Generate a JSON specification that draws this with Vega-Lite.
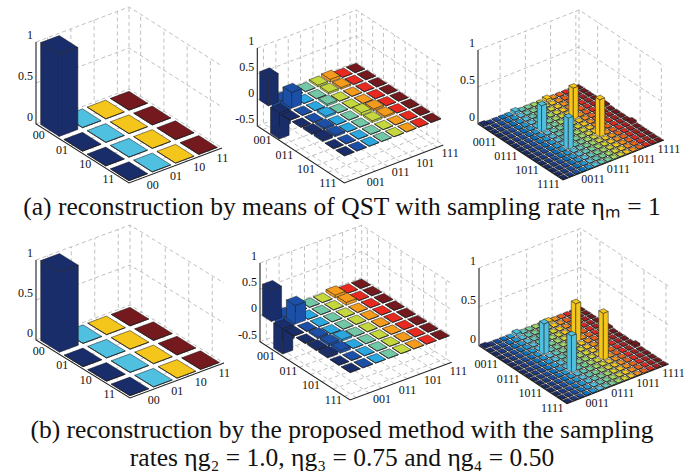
{"$schema":"https://vega.github.io/schema/vega-lite/v6.json","padding":0,"background":"white","config":{"view":{"stroke":null},"concat":{"spacing":0}},"params":[{"name":"OX","value":[36,257.3,478,36,260,479]},{"name":"OY","value":[124,126,124,340,341.7,345.7]},{"name":"RX","value":[93,87,85,94,90,88]},{"name":"RY","value":[59,57,56,58,58.3,58]},{"name":"CX","value":[93,99,101,94,101.7,101.7]},{"name":"CY","value":[-35,-38,-40,-35,-37.7,-39.7]},{"name":"ZU","value":[82,52,74,80,52.5,77.7]},{"name":"ZL","value":[0,-0.5,0,0,-0.5,0]},{"name":"NN","value":[4,8,16,4,8,16]},{"name":"DRX","value":[-9,-11,-12,-9,-11,-12]},{"name":"DRY","value":[3.5,3.7,6,3.5,3.7,6]},{"name":"DCX","value":[12,13,8,12,13,8]},{"name":"DCY","value":[6,6,8,6,6,8]}],
"data":{"values":[
{"p":0,"l":"a"},{"p":1,"l":"a"},{"p":2,"l":"a"},{"p":3,"l":"a"},{"p":4,"l":"a"},{"p":5,"l":"a"},
{"p":0,"l":"k"},{"p":1,"l":"k"},{"p":2,"l":"k"},{"p":3,"l":"k"},{"p":4,"l":"k"},{"p":5,"l":"k"},
{"p":0,"l":"z","t":0},{"p":0,"l":"z","t":0.5},{"p":0,"l":"z","t":1},{"p":3,"l":"z","t":0},{"p":3,"l":"z","t":0.5},{"p":3,"l":"z","t":1},
{"p":2,"l":"z","t":0},{"p":2,"l":"z","t":0.5},{"p":2,"l":"z","t":1},{"p":5,"l":"z","t":0},{"p":5,"l":"z","t":0.5},{"p":5,"l":"z","t":1},
{"p":1,"l":"z","t":-0.5},{"p":1,"l":"z","t":0},{"p":1,"l":"z","t":0.5},{"p":1,"l":"z","t":1},{"p":4,"l":"z","t":-0.5},{"p":4,"l":"z","t":0},{"p":4,"l":"z","t":0.5},{"p":4,"l":"z","t":1},
{"p":0,"l":"c","t":0},{"p":0,"l":"c","t":1},{"p":0,"l":"c","t":2},{"p":0,"l":"c","t":3},{"p":0,"l":"r","t":0},{"p":0,"l":"r","t":1},{"p":0,"l":"r","t":2},{"p":0,"l":"r","t":3},
{"p":3,"l":"c","t":0},{"p":3,"l":"c","t":1},{"p":3,"l":"c","t":2},{"p":3,"l":"c","t":3},{"p":3,"l":"r","t":0},{"p":3,"l":"r","t":1},{"p":3,"l":"r","t":2},{"p":3,"l":"r","t":3},
{"p":2,"l":"c","t":3},{"p":2,"l":"c","t":7},{"p":2,"l":"c","t":11},{"p":2,"l":"c","t":15},{"p":2,"l":"r","t":3},{"p":2,"l":"r","t":7},{"p":2,"l":"r","t":11},{"p":2,"l":"r","t":15},
{"p":5,"l":"c","t":3},{"p":5,"l":"c","t":7},{"p":5,"l":"c","t":11},{"p":5,"l":"c","t":15},{"p":5,"l":"r","t":3},{"p":5,"l":"r","t":7},{"p":5,"l":"r","t":11},{"p":5,"l":"r","t":15},
{"p":1,"l":"c","t":0},{"p":1,"l":"c","t":1},{"p":1,"l":"c","t":2},{"p":1,"l":"c","t":3},{"p":1,"l":"c","t":4},{"p":1,"l":"c","t":5},{"p":1,"l":"c","t":6},{"p":1,"l":"c","t":7},{"p":1,"l":"r","t":0},{"p":1,"l":"r","t":1},{"p":1,"l":"r","t":2},{"p":1,"l":"r","t":3},{"p":1,"l":"r","t":4},{"p":1,"l":"r","t":5},{"p":1,"l":"r","t":6},{"p":1,"l":"r","t":7},
{"p":4,"l":"c","t":0},{"p":4,"l":"c","t":1},{"p":4,"l":"c","t":2},{"p":4,"l":"c","t":3},{"p":4,"l":"c","t":4},{"p":4,"l":"c","t":5},{"p":4,"l":"c","t":6},{"p":4,"l":"c","t":7},{"p":4,"l":"r","t":0},{"p":4,"l":"r","t":1},{"p":4,"l":"r","t":2},{"p":4,"l":"r","t":3},{"p":4,"l":"r","t":4},{"p":4,"l":"r","t":5},{"p":4,"l":"r","t":6},{"p":4,"l":"r","t":7},
{"p":0,"l":"tz","t":0,"s":"0"},{"p":0,"l":"tz","t":0.5,"s":"0.5"},{"p":0,"l":"tz","t":1,"s":"1"},{"p":3,"l":"tz","t":0,"s":"0"},{"p":3,"l":"tz","t":0.5,"s":"0.5"},{"p":3,"l":"tz","t":1,"s":"1"},
{"p":2,"l":"tz","t":0,"s":"0"},{"p":2,"l":"tz","t":0.5,"s":"0.5"},{"p":2,"l":"tz","t":1,"s":"1"},{"p":5,"l":"tz","t":0,"s":"0"},{"p":5,"l":"tz","t":0.5,"s":"0.5"},{"p":5,"l":"tz","t":1,"s":"1"},
{"p":1,"l":"tz","t":-0.5,"s":"-0.5"},{"p":1,"l":"tz","t":0,"s":"0"},{"p":1,"l":"tz","t":0.5,"s":"0.5"},{"p":1,"l":"tz","t":1,"s":"1"},{"p":4,"l":"tz","t":-0.5,"s":"-0.5"},{"p":4,"l":"tz","t":0,"s":"0"},{"p":4,"l":"tz","t":0.5,"s":"0.5"},{"p":4,"l":"tz","t":1,"s":"1"},
{"p":0,"l":"tr","t":0,"s":"00"},{"p":0,"l":"tr","t":1,"s":"01"},{"p":0,"l":"tr","t":2,"s":"10"},{"p":0,"l":"tr","t":3,"s":"11"},{"p":0,"l":"tc","t":0,"s":"00"},{"p":0,"l":"tc","t":1,"s":"01"},{"p":0,"l":"tc","t":2,"s":"10"},{"p":0,"l":"tc","t":3,"s":"11"},
{"p":3,"l":"tr","t":0,"s":"00"},{"p":3,"l":"tr","t":1,"s":"01"},{"p":3,"l":"tr","t":2,"s":"10"},{"p":3,"l":"tr","t":3,"s":"11"},{"p":3,"l":"tc","t":0,"s":"00"},{"p":3,"l":"tc","t":1,"s":"01"},{"p":3,"l":"tc","t":2,"s":"10"},{"p":3,"l":"tc","t":3,"s":"11"},
{"p":1,"l":"tr","t":1,"s":"001"},{"p":1,"l":"tr","t":3,"s":"011"},{"p":1,"l":"tr","t":5,"s":"101"},{"p":1,"l":"tr","t":7,"s":"111"},{"p":1,"l":"tc","t":1,"s":"001"},{"p":1,"l":"tc","t":3,"s":"011"},{"p":1,"l":"tc","t":5,"s":"101"},{"p":1,"l":"tc","t":7,"s":"111"},
{"p":4,"l":"tr","t":1,"s":"001"},{"p":4,"l":"tr","t":3,"s":"011"},{"p":4,"l":"tr","t":5,"s":"101"},{"p":4,"l":"tr","t":7,"s":"111"},{"p":4,"l":"tc","t":1,"s":"001"},{"p":4,"l":"tc","t":3,"s":"011"},{"p":4,"l":"tc","t":5,"s":"101"},{"p":4,"l":"tc","t":7,"s":"111"},
{"p":2,"l":"tr","t":3,"s":"0011"},{"p":2,"l":"tr","t":7,"s":"0111"},{"p":2,"l":"tr","t":11,"s":"1011"},{"p":2,"l":"tr","t":15,"s":"1111"},{"p":2,"l":"tc","t":3,"s":"0011"},{"p":2,"l":"tc","t":7,"s":"0111"},{"p":2,"l":"tc","t":11,"s":"1011"},{"p":2,"l":"tc","t":15,"s":"1111"},
{"p":5,"l":"tr","t":3,"s":"0011"},{"p":5,"l":"tr","t":7,"s":"0111"},{"p":5,"l":"tr","t":11,"s":"1011"},{"p":5,"l":"tr","t":15,"s":"1111"},{"p":5,"l":"tc","t":3,"s":"0011"},{"p":5,"l":"tc","t":7,"s":"0111"},{"p":5,"l":"tc","t":11,"s":"1011"},{"p":5,"l":"tc","t":15,"s":"1111"},
{"p":0,"r":0,"c":3,"z":0},{"p":0,"r":0,"c":2,"z":0},{"p":0,"r":0,"c":1,"z":0},{"p":0,"r":0,"c":0,"z":1},{"p":0,"r":1,"c":3,"z":0},{"p":0,"r":1,"c":2,"z":0},{"p":0,"r":1,"c":1,"z":0},{"p":0,"r":1,"c":0,"z":0},{"p":0,"r":2,"c":3,"z":0},{"p":0,"r":2,"c":2,"z":0},{"p":0,"r":2,"c":1,"z":0},{"p":0,"r":2,"c":0,"z":0},{"p":0,"r":3,"c":3,"z":0},{"p":0,"r":3,"c":2,"z":0},{"p":0,"r":3,"c":1,"z":0},{"p":0,"r":3,"c":0,"z":0},
{"p":3,"r":0,"c":3,"z":0},{"p":3,"r":0,"c":2,"z":0},{"p":3,"r":0,"c":1,"z":0},{"p":3,"r":0,"c":0,"z":1},{"p":3,"r":1,"c":3,"z":0},{"p":3,"r":1,"c":2,"z":0},{"p":3,"r":1,"c":1,"z":0},{"p":3,"r":1,"c":0,"z":0},{"p":3,"r":2,"c":3,"z":0},{"p":3,"r":2,"c":2,"z":0},{"p":3,"r":2,"c":1,"z":0},{"p":3,"r":2,"c":0,"z":0},{"p":3,"r":3,"c":3,"z":0},{"p":3,"r":3,"c":2,"z":0},{"p":3,"r":3,"c":1,"z":0},{"p":3,"r":3,"c":0,"z":0},
{"p":1,"r":0,"c":7,"z":0},{"p":1,"r":0,"c":6,"z":0},{"p":1,"r":0,"c":5,"z":0.05},{"p":1,"r":0,"c":4,"z":0.03},{"p":1,"r":0,"c":3,"z":0},{"p":1,"r":0,"c":2,"z":0},{"p":1,"r":0,"c":1,"z":-0.5},{"p":1,"r":0,"c":0,"z":0.55},
{"p":1,"r":1,"c":7,"z":0},{"p":1,"r":1,"c":6,"z":0},{"p":1,"r":1,"c":5,"z":0.03},{"p":1,"r":1,"c":4,"z":0.03},{"p":1,"r":1,"c":3,"z":0},{"p":1,"r":1,"c":2,"z":0},{"p":1,"r":1,"c":1,"z":0.3},{"p":1,"r":1,"c":0,"z":-0.5},
{"p":1,"r":2,"c":7,"z":0},{"p":1,"r":2,"c":6,"z":0},{"p":1,"r":2,"c":5,"z":0},{"p":1,"r":2,"c":4,"z":0},{"p":1,"r":2,"c":3,"z":0.03},{"p":1,"r":2,"c":2,"z":0},{"p":1,"r":2,"c":1,"z":0},{"p":1,"r":2,"c":0,"z":0},
{"p":1,"r":3,"c":7,"z":0},{"p":1,"r":3,"c":6,"z":0},{"p":1,"r":3,"c":5,"z":0},{"p":1,"r":3,"c":4,"z":0},{"p":1,"r":3,"c":3,"z":0},{"p":1,"r":3,"c":2,"z":0.03},{"p":1,"r":3,"c":1,"z":0},{"p":1,"r":3,"c":0,"z":0},
{"p":1,"r":4,"c":7,"z":0},{"p":1,"r":4,"c":6,"z":0},{"p":1,"r":4,"c":5,"z":0.03},{"p":1,"r":4,"c":4,"z":0.05},{"p":1,"r":4,"c":3,"z":0},{"p":1,"r":4,"c":2,"z":0},{"p":1,"r":4,"c":1,"z":0.03},{"p":1,"r":4,"c":0,"z":0.03},
{"p":1,"r":5,"c":7,"z":0},{"p":1,"r":5,"c":6,"z":0},{"p":1,"r":5,"c":5,"z":0.03},{"p":1,"r":5,"c":4,"z":0.03},{"p":1,"r":5,"c":3,"z":0},{"p":1,"r":5,"c":2,"z":0},{"p":1,"r":5,"c":1,"z":0.03},{"p":1,"r":5,"c":0,"z":0.05},
{"p":1,"r":6,"c":7,"z":0},{"p":1,"r":6,"c":6,"z":0},{"p":1,"r":6,"c":5,"z":0},{"p":1,"r":6,"c":4,"z":0},{"p":1,"r":6,"c":3,"z":0},{"p":1,"r":6,"c":2,"z":0},{"p":1,"r":6,"c":1,"z":0},{"p":1,"r":6,"c":0,"z":0},
{"p":1,"r":7,"c":7,"z":0},{"p":1,"r":7,"c":6,"z":0},{"p":1,"r":7,"c":5,"z":0},{"p":1,"r":7,"c":4,"z":0},{"p":1,"r":7,"c":3,"z":0},{"p":1,"r":7,"c":2,"z":0},{"p":1,"r":7,"c":1,"z":0},{"p":1,"r":7,"c":0,"z":0},
{"p":4,"r":0,"c":7,"z":0},{"p":4,"r":0,"c":6,"z":0},{"p":4,"r":0,"c":5,"z":0.05},{"p":4,"r":0,"c":4,"z":0},{"p":4,"r":0,"c":3,"z":0},{"p":4,"r":0,"c":2,"z":0},{"p":4,"r":0,"c":1,"z":-0.48},{"p":4,"r":0,"c":0,"z":0.6},
{"p":4,"r":1,"c":7,"z":0},{"p":4,"r":1,"c":6,"z":0},{"p":4,"r":1,"c":5,"z":0.05},{"p":4,"r":1,"c":4,"z":0},{"p":4,"r":1,"c":3,"z":0},{"p":4,"r":1,"c":2,"z":0},{"p":4,"r":1,"c":1,"z":0.35},{"p":4,"r":1,"c":0,"z":-0.48},
{"p":4,"r":2,"c":7,"z":0},{"p":4,"r":2,"c":6,"z":0},{"p":4,"r":2,"c":5,"z":0},{"p":4,"r":2,"c":4,"z":0},{"p":4,"r":2,"c":3,"z":0},{"p":4,"r":2,"c":2,"z":0},{"p":4,"r":2,"c":1,"z":0},{"p":4,"r":2,"c":0,"z":0},
{"p":4,"r":3,"c":7,"z":0},{"p":4,"r":3,"c":6,"z":0},{"p":4,"r":3,"c":5,"z":0},{"p":4,"r":3,"c":4,"z":0},{"p":4,"r":3,"c":3,"z":0},{"p":4,"r":3,"c":2,"z":0},{"p":4,"r":3,"c":1,"z":0.03},{"p":4,"r":3,"c":0,"z":0},
{"p":4,"r":4,"c":7,"z":0},{"p":4,"r":4,"c":6,"z":0},{"p":4,"r":4,"c":5,"z":0},{"p":4,"r":4,"c":4,"z":0},{"p":4,"r":4,"c":3,"z":0},{"p":4,"r":4,"c":2,"z":0.03},{"p":4,"r":4,"c":1,"z":0.04},{"p":4,"r":4,"c":0,"z":0.03},
{"p":4,"r":5,"c":7,"z":0},{"p":4,"r":5,"c":6,"z":0},{"p":4,"r":5,"c":5,"z":0},{"p":4,"r":5,"c":4,"z":0},{"p":4,"r":5,"c":3,"z":0},{"p":4,"r":5,"c":2,"z":0},{"p":4,"r":5,"c":1,"z":0.05},{"p":4,"r":5,"c":0,"z":0.05},
{"p":4,"r":6,"c":7,"z":0},{"p":4,"r":6,"c":6,"z":0},{"p":4,"r":6,"c":5,"z":0},{"p":4,"r":6,"c":4,"z":0},{"p":4,"r":6,"c":3,"z":0},{"p":4,"r":6,"c":2,"z":0},{"p":4,"r":6,"c":1,"z":0},{"p":4,"r":6,"c":0,"z":0},
{"p":4,"r":7,"c":7,"z":0},{"p":4,"r":7,"c":6,"z":0},{"p":4,"r":7,"c":5,"z":0},{"p":4,"r":7,"c":4,"z":0},{"p":4,"r":7,"c":3,"z":0},{"p":4,"r":7,"c":2,"z":0},{"p":4,"r":7,"c":1,"z":0},{"p":4,"r":7,"c":0,"z":0},
{"p":2,"r":0,"c":15,"z":0},{"p":2,"r":0,"c":14,"z":0},{"p":2,"r":0,"c":13,"z":0},{"p":2,"r":0,"c":12,"z":0},{"p":2,"r":0,"c":11,"z":0},{"p":2,"r":0,"c":10,"z":0.03},{"p":2,"r":0,"c":9,"z":0},{"p":2,"r":0,"c":8,"z":0},{"p":2,"r":0,"c":7,"z":0},{"p":2,"r":0,"c":6,"z":0},{"p":2,"r":0,"c":5,"z":0.03},{"p":2,"r":0,"c":4,"z":0},{"p":2,"r":0,"c":3,"z":0},{"p":2,"r":0,"c":2,"z":0},{"p":2,"r":0,"c":1,"z":0},{"p":2,"r":0,"c":0,"z":0.02},
{"p":2,"r":1,"c":15,"z":0},{"p":2,"r":1,"c":14,"z":0},{"p":2,"r":1,"c":13,"z":0},{"p":2,"r":1,"c":12,"z":0},{"p":2,"r":1,"c":11,"z":0},{"p":2,"r":1,"c":10,"z":0},{"p":2,"r":1,"c":9,"z":0},{"p":2,"r":1,"c":8,"z":0},{"p":2,"r":1,"c":7,"z":0},{"p":2,"r":1,"c":6,"z":0},{"p":2,"r":1,"c":5,"z":0},{"p":2,"r":1,"c":4,"z":0},{"p":2,"r":1,"c":3,"z":0},{"p":2,"r":1,"c":2,"z":0},{"p":2,"r":1,"c":1,"z":0},{"p":2,"r":1,"c":0,"z":0},
{"p":2,"r":2,"c":15,"z":0},{"p":2,"r":2,"c":14,"z":0},{"p":2,"r":2,"c":13,"z":0},{"p":2,"r":2,"c":12,"z":0},{"p":2,"r":2,"c":11,"z":0},{"p":2,"r":2,"c":10,"z":0},{"p":2,"r":2,"c":9,"z":0},{"p":2,"r":2,"c":8,"z":0},{"p":2,"r":2,"c":7,"z":0},{"p":2,"r":2,"c":6,"z":0},{"p":2,"r":2,"c":5,"z":0},{"p":2,"r":2,"c":4,"z":0},{"p":2,"r":2,"c":3,"z":0},{"p":2,"r":2,"c":2,"z":0},{"p":2,"r":2,"c":1,"z":0},{"p":2,"r":2,"c":0,"z":0},
{"p":2,"r":3,"c":15,"z":0},{"p":2,"r":3,"c":14,"z":0},{"p":2,"r":3,"c":13,"z":0},{"p":2,"r":3,"c":12,"z":0},{"p":2,"r":3,"c":11,"z":0},{"p":2,"r":3,"c":10,"z":0},{"p":2,"r":3,"c":9,"z":0},{"p":2,"r":3,"c":8,"z":0},{"p":2,"r":3,"c":7,"z":0},{"p":2,"r":3,"c":6,"z":0},{"p":2,"r":3,"c":5,"z":0},{"p":2,"r":3,"c":4,"z":0},{"p":2,"r":3,"c":3,"z":0},{"p":2,"r":3,"c":2,"z":0},{"p":2,"r":3,"c":1,"z":0},{"p":2,"r":3,"c":0,"z":0},
{"p":2,"r":4,"c":15,"z":0},{"p":2,"r":4,"c":14,"z":0},{"p":2,"r":4,"c":13,"z":0},{"p":2,"r":4,"c":12,"z":0},{"p":2,"r":4,"c":11,"z":0},{"p":2,"r":4,"c":10,"z":0},{"p":2,"r":4,"c":9,"z":0},{"p":2,"r":4,"c":8,"z":0},{"p":2,"r":4,"c":7,"z":0},{"p":2,"r":4,"c":6,"z":0},{"p":2,"r":4,"c":5,"z":0},{"p":2,"r":4,"c":4,"z":0},{"p":2,"r":4,"c":3,"z":0},{"p":2,"r":4,"c":2,"z":0},{"p":2,"r":4,"c":1,"z":0},{"p":2,"r":4,"c":0,"z":0},
{"p":2,"r":5,"c":15,"z":0.02},{"p":2,"r":5,"c":14,"z":0},{"p":2,"r":5,"c":13,"z":0},{"p":2,"r":5,"c":12,"z":0},{"p":2,"r":5,"c":11,"z":0},{"p":2,"r":5,"c":10,"z":0.42},{"p":2,"r":5,"c":9,"z":0},{"p":2,"r":5,"c":8,"z":0},{"p":2,"r":5,"c":7,"z":0},{"p":2,"r":5,"c":6,"z":0},{"p":2,"r":5,"c":5,"z":0.35},{"p":2,"r":5,"c":4,"z":0},{"p":2,"r":5,"c":3,"z":0},{"p":2,"r":5,"c":2,"z":0},{"p":2,"r":5,"c":1,"z":0},{"p":2,"r":5,"c":0,"z":0},
{"p":2,"r":6,"c":15,"z":0},{"p":2,"r":6,"c":14,"z":0},{"p":2,"r":6,"c":13,"z":0},{"p":2,"r":6,"c":12,"z":0},{"p":2,"r":6,"c":11,"z":0},{"p":2,"r":6,"c":10,"z":0},{"p":2,"r":6,"c":9,"z":0},{"p":2,"r":6,"c":8,"z":0},{"p":2,"r":6,"c":7,"z":0},{"p":2,"r":6,"c":6,"z":0},{"p":2,"r":6,"c":5,"z":0},{"p":2,"r":6,"c":4,"z":0},{"p":2,"r":6,"c":3,"z":0},{"p":2,"r":6,"c":2,"z":0},{"p":2,"r":6,"c":1,"z":0},{"p":2,"r":6,"c":0,"z":0},
{"p":2,"r":7,"c":15,"z":0},{"p":2,"r":7,"c":14,"z":0},{"p":2,"r":7,"c":13,"z":0},{"p":2,"r":7,"c":12,"z":0},{"p":2,"r":7,"c":11,"z":0},{"p":2,"r":7,"c":10,"z":0},{"p":2,"r":7,"c":9,"z":0},{"p":2,"r":7,"c":8,"z":0},{"p":2,"r":7,"c":7,"z":0},{"p":2,"r":7,"c":6,"z":0},{"p":2,"r":7,"c":5,"z":0},{"p":2,"r":7,"c":4,"z":0},{"p":2,"r":7,"c":3,"z":0},{"p":2,"r":7,"c":2,"z":0},{"p":2,"r":7,"c":1,"z":0},{"p":2,"r":7,"c":0,"z":0},
{"p":2,"r":8,"c":15,"z":0},{"p":2,"r":8,"c":14,"z":0},{"p":2,"r":8,"c":13,"z":0},{"p":2,"r":8,"c":12,"z":0},{"p":2,"r":8,"c":11,"z":0},{"p":2,"r":8,"c":10,"z":0},{"p":2,"r":8,"c":9,"z":0},{"p":2,"r":8,"c":8,"z":0},{"p":2,"r":8,"c":7,"z":0},{"p":2,"r":8,"c":6,"z":0},{"p":2,"r":8,"c":5,"z":0},{"p":2,"r":8,"c":4,"z":0},{"p":2,"r":8,"c":3,"z":0},{"p":2,"r":8,"c":2,"z":0},{"p":2,"r":8,"c":1,"z":0},{"p":2,"r":8,"c":0,"z":0},
{"p":2,"r":9,"c":15,"z":0},{"p":2,"r":9,"c":14,"z":0},{"p":2,"r":9,"c":13,"z":0},{"p":2,"r":9,"c":12,"z":0},{"p":2,"r":9,"c":11,"z":0},{"p":2,"r":9,"c":10,"z":0},{"p":2,"r":9,"c":9,"z":0},{"p":2,"r":9,"c":8,"z":0},{"p":2,"r":9,"c":7,"z":0},{"p":2,"r":9,"c":6,"z":0},{"p":2,"r":9,"c":5,"z":0},{"p":2,"r":9,"c":4,"z":0},{"p":2,"r":9,"c":3,"z":0},{"p":2,"r":9,"c":2,"z":0},{"p":2,"r":9,"c":1,"z":0},{"p":2,"r":9,"c":0,"z":0},
{"p":2,"r":10,"c":15,"z":0.03},{"p":2,"r":10,"c":14,"z":0},{"p":2,"r":10,"c":13,"z":0},{"p":2,"r":10,"c":12,"z":0},{"p":2,"r":10,"c":11,"z":0},{"p":2,"r":10,"c":10,"z":0.5},{"p":2,"r":10,"c":9,"z":0},{"p":2,"r":10,"c":8,"z":0},{"p":2,"r":10,"c":7,"z":0},{"p":2,"r":10,"c":6,"z":0},{"p":2,"r":10,"c":5,"z":0.42},{"p":2,"r":10,"c":4,"z":0},{"p":2,"r":10,"c":3,"z":0},{"p":2,"r":10,"c":2,"z":0},{"p":2,"r":10,"c":1,"z":0},{"p":2,"r":10,"c":0,"z":0},
{"p":2,"r":11,"c":15,"z":0},{"p":2,"r":11,"c":14,"z":0},{"p":2,"r":11,"c":13,"z":0},{"p":2,"r":11,"c":12,"z":0},{"p":2,"r":11,"c":11,"z":0},{"p":2,"r":11,"c":10,"z":0},{"p":2,"r":11,"c":9,"z":0},{"p":2,"r":11,"c":8,"z":0},{"p":2,"r":11,"c":7,"z":0},{"p":2,"r":11,"c":6,"z":0},{"p":2,"r":11,"c":5,"z":0},{"p":2,"r":11,"c":4,"z":0},{"p":2,"r":11,"c":3,"z":0},{"p":2,"r":11,"c":2,"z":0},{"p":2,"r":11,"c":1,"z":0},{"p":2,"r":11,"c":0,"z":0},
{"p":2,"r":12,"c":15,"z":0},{"p":2,"r":12,"c":14,"z":0},{"p":2,"r":12,"c":13,"z":0},{"p":2,"r":12,"c":12,"z":0},{"p":2,"r":12,"c":11,"z":0},{"p":2,"r":12,"c":10,"z":0},{"p":2,"r":12,"c":9,"z":0},{"p":2,"r":12,"c":8,"z":0},{"p":2,"r":12,"c":7,"z":0},{"p":2,"r":12,"c":6,"z":0},{"p":2,"r":12,"c":5,"z":0},{"p":2,"r":12,"c":4,"z":0},{"p":2,"r":12,"c":3,"z":0},{"p":2,"r":12,"c":2,"z":0},{"p":2,"r":12,"c":1,"z":0},{"p":2,"r":12,"c":0,"z":0},
{"p":2,"r":13,"c":15,"z":0},{"p":2,"r":13,"c":14,"z":0},{"p":2,"r":13,"c":13,"z":0},{"p":2,"r":13,"c":12,"z":0},{"p":2,"r":13,"c":11,"z":0},{"p":2,"r":13,"c":10,"z":0},{"p":2,"r":13,"c":9,"z":0},{"p":2,"r":13,"c":8,"z":0},{"p":2,"r":13,"c":7,"z":0},{"p":2,"r":13,"c":6,"z":0},{"p":2,"r":13,"c":5,"z":0},{"p":2,"r":13,"c":4,"z":0},{"p":2,"r":13,"c":3,"z":0},{"p":2,"r":13,"c":2,"z":0},{"p":2,"r":13,"c":1,"z":0},{"p":2,"r":13,"c":0,"z":0},
{"p":2,"r":14,"c":15,"z":0},{"p":2,"r":14,"c":14,"z":0},{"p":2,"r":14,"c":13,"z":0},{"p":2,"r":14,"c":12,"z":0},{"p":2,"r":14,"c":11,"z":0},{"p":2,"r":14,"c":10,"z":0},{"p":2,"r":14,"c":9,"z":0},{"p":2,"r":14,"c":8,"z":0},{"p":2,"r":14,"c":7,"z":0},{"p":2,"r":14,"c":6,"z":0},{"p":2,"r":14,"c":5,"z":0},{"p":2,"r":14,"c":4,"z":0},{"p":2,"r":14,"c":3,"z":0},{"p":2,"r":14,"c":2,"z":0},{"p":2,"r":14,"c":1,"z":0},{"p":2,"r":14,"c":0,"z":0},
{"p":2,"r":15,"c":15,"z":0},{"p":2,"r":15,"c":14,"z":0},{"p":2,"r":15,"c":13,"z":0},{"p":2,"r":15,"c":12,"z":0},{"p":2,"r":15,"c":11,"z":0},{"p":2,"r":15,"c":10,"z":0},{"p":2,"r":15,"c":9,"z":0},{"p":2,"r":15,"c":8,"z":0},{"p":2,"r":15,"c":7,"z":0},{"p":2,"r":15,"c":6,"z":0},{"p":2,"r":15,"c":5,"z":0},{"p":2,"r":15,"c":4,"z":0},{"p":2,"r":15,"c":3,"z":0},{"p":2,"r":15,"c":2,"z":0},{"p":2,"r":15,"c":1,"z":0},{"p":2,"r":15,"c":0,"z":0},
{"p":5,"r":0,"c":15,"z":0},{"p":5,"r":0,"c":14,"z":0},{"p":5,"r":0,"c":13,"z":0},{"p":5,"r":0,"c":12,"z":0},{"p":5,"r":0,"c":11,"z":0},{"p":5,"r":0,"c":10,"z":0.02},{"p":5,"r":0,"c":9,"z":0},{"p":5,"r":0,"c":8,"z":0},{"p":5,"r":0,"c":7,"z":0},{"p":5,"r":0,"c":6,"z":0},{"p":5,"r":0,"c":5,"z":0.03},{"p":5,"r":0,"c":4,"z":0},{"p":5,"r":0,"c":3,"z":0},{"p":5,"r":0,"c":2,"z":0},{"p":5,"r":0,"c":1,"z":0},{"p":5,"r":0,"c":0,"z":0.02},
{"p":5,"r":1,"c":15,"z":0},{"p":5,"r":1,"c":14,"z":0},{"p":5,"r":1,"c":13,"z":0},{"p":5,"r":1,"c":12,"z":0},{"p":5,"r":1,"c":11,"z":0},{"p":5,"r":1,"c":10,"z":0},{"p":5,"r":1,"c":9,"z":0},{"p":5,"r":1,"c":8,"z":0},{"p":5,"r":1,"c":7,"z":0},{"p":5,"r":1,"c":6,"z":0},{"p":5,"r":1,"c":5,"z":0},{"p":5,"r":1,"c":4,"z":0},{"p":5,"r":1,"c":3,"z":0},{"p":5,"r":1,"c":2,"z":0},{"p":5,"r":1,"c":1,"z":0},{"p":5,"r":1,"c":0,"z":0},
{"p":5,"r":2,"c":15,"z":0},{"p":5,"r":2,"c":14,"z":0},{"p":5,"r":2,"c":13,"z":0},{"p":5,"r":2,"c":12,"z":0},{"p":5,"r":2,"c":11,"z":0},{"p":5,"r":2,"c":10,"z":0},{"p":5,"r":2,"c":9,"z":0},{"p":5,"r":2,"c":8,"z":0},{"p":5,"r":2,"c":7,"z":0},{"p":5,"r":2,"c":6,"z":0},{"p":5,"r":2,"c":5,"z":0},{"p":5,"r":2,"c":4,"z":0},{"p":5,"r":2,"c":3,"z":0},{"p":5,"r":2,"c":2,"z":0},{"p":5,"r":2,"c":1,"z":0},{"p":5,"r":2,"c":0,"z":0},
{"p":5,"r":3,"c":15,"z":0},{"p":5,"r":3,"c":14,"z":0},{"p":5,"r":3,"c":13,"z":0},{"p":5,"r":3,"c":12,"z":0},{"p":5,"r":3,"c":11,"z":0},{"p":5,"r":3,"c":10,"z":0},{"p":5,"r":3,"c":9,"z":0},{"p":5,"r":3,"c":8,"z":0},{"p":5,"r":3,"c":7,"z":0},{"p":5,"r":3,"c":6,"z":0},{"p":5,"r":3,"c":5,"z":0},{"p":5,"r":3,"c":4,"z":0},{"p":5,"r":3,"c":3,"z":0},{"p":5,"r":3,"c":2,"z":0},{"p":5,"r":3,"c":1,"z":0},{"p":5,"r":3,"c":0,"z":0},
{"p":5,"r":4,"c":15,"z":0},{"p":5,"r":4,"c":14,"z":0},{"p":5,"r":4,"c":13,"z":0},{"p":5,"r":4,"c":12,"z":0},{"p":5,"r":4,"c":11,"z":0},{"p":5,"r":4,"c":10,"z":0},{"p":5,"r":4,"c":9,"z":0},{"p":5,"r":4,"c":8,"z":0},{"p":5,"r":4,"c":7,"z":0},{"p":5,"r":4,"c":6,"z":0},{"p":5,"r":4,"c":5,"z":0},{"p":5,"r":4,"c":4,"z":0},{"p":5,"r":4,"c":3,"z":0},{"p":5,"r":4,"c":2,"z":0},{"p":5,"r":4,"c":1,"z":0},{"p":5,"r":4,"c":0,"z":0},
{"p":5,"r":5,"c":15,"z":0.02},{"p":5,"r":5,"c":14,"z":0},{"p":5,"r":5,"c":13,"z":0},{"p":5,"r":5,"c":12,"z":0},{"p":5,"r":5,"c":11,"z":0},{"p":5,"r":5,"c":10,"z":0.49},{"p":5,"r":5,"c":9,"z":0},{"p":5,"r":5,"c":8,"z":0},{"p":5,"r":5,"c":7,"z":0},{"p":5,"r":5,"c":6,"z":0},{"p":5,"r":5,"c":5,"z":0.39},{"p":5,"r":5,"c":4,"z":0},{"p":5,"r":5,"c":3,"z":0},{"p":5,"r":5,"c":2,"z":0},{"p":5,"r":5,"c":1,"z":0},{"p":5,"r":5,"c":0,"z":0},
{"p":5,"r":6,"c":15,"z":0},{"p":5,"r":6,"c":14,"z":0},{"p":5,"r":6,"c":13,"z":0},{"p":5,"r":6,"c":12,"z":0},{"p":5,"r":6,"c":11,"z":0},{"p":5,"r":6,"c":10,"z":0},{"p":5,"r":6,"c":9,"z":0},{"p":5,"r":6,"c":8,"z":0},{"p":5,"r":6,"c":7,"z":0},{"p":5,"r":6,"c":6,"z":0},{"p":5,"r":6,"c":5,"z":0},{"p":5,"r":6,"c":4,"z":0},{"p":5,"r":6,"c":3,"z":0},{"p":5,"r":6,"c":2,"z":0},{"p":5,"r":6,"c":1,"z":0},{"p":5,"r":6,"c":0,"z":0},
{"p":5,"r":7,"c":15,"z":0},{"p":5,"r":7,"c":14,"z":0},{"p":5,"r":7,"c":13,"z":0},{"p":5,"r":7,"c":12,"z":0},{"p":5,"r":7,"c":11,"z":0},{"p":5,"r":7,"c":10,"z":0},{"p":5,"r":7,"c":9,"z":0},{"p":5,"r":7,"c":8,"z":0},{"p":5,"r":7,"c":7,"z":0},{"p":5,"r":7,"c":6,"z":0},{"p":5,"r":7,"c":5,"z":0},{"p":5,"r":7,"c":4,"z":0},{"p":5,"r":7,"c":3,"z":0},{"p":5,"r":7,"c":2,"z":0},{"p":5,"r":7,"c":1,"z":0},{"p":5,"r":7,"c":0,"z":0},
{"p":5,"r":8,"c":15,"z":0},{"p":5,"r":8,"c":14,"z":0},{"p":5,"r":8,"c":13,"z":0},{"p":5,"r":8,"c":12,"z":0},{"p":5,"r":8,"c":11,"z":0},{"p":5,"r":8,"c":10,"z":0},{"p":5,"r":8,"c":9,"z":0},{"p":5,"r":8,"c":8,"z":0},{"p":5,"r":8,"c":7,"z":0},{"p":5,"r":8,"c":6,"z":0},{"p":5,"r":8,"c":5,"z":0},{"p":5,"r":8,"c":4,"z":0},{"p":5,"r":8,"c":3,"z":0},{"p":5,"r":8,"c":2,"z":0},{"p":5,"r":8,"c":1,"z":0},{"p":5,"r":8,"c":0,"z":0},
{"p":5,"r":9,"c":15,"z":0},{"p":5,"r":9,"c":14,"z":0},{"p":5,"r":9,"c":13,"z":0},{"p":5,"r":9,"c":12,"z":0},{"p":5,"r":9,"c":11,"z":0},{"p":5,"r":9,"c":10,"z":0},{"p":5,"r":9,"c":9,"z":0},{"p":5,"r":9,"c":8,"z":0},{"p":5,"r":9,"c":7,"z":0},{"p":5,"r":9,"c":6,"z":0},{"p":5,"r":9,"c":5,"z":0},{"p":5,"r":9,"c":4,"z":0},{"p":5,"r":9,"c":3,"z":0},{"p":5,"r":9,"c":2,"z":0},{"p":5,"r":9,"c":1,"z":0},{"p":5,"r":9,"c":0,"z":0},
{"p":5,"r":10,"c":15,"z":0.03},{"p":5,"r":10,"c":14,"z":0},{"p":5,"r":10,"c":13,"z":0},{"p":5,"r":10,"c":12,"z":0},{"p":5,"r":10,"c":11,"z":0},{"p":5,"r":10,"c":10,"z":0.6},{"p":5,"r":10,"c":9,"z":0},{"p":5,"r":10,"c":8,"z":0},{"p":5,"r":10,"c":7,"z":0},{"p":5,"r":10,"c":6,"z":0},{"p":5,"r":10,"c":5,"z":0.47},{"p":5,"r":10,"c":4,"z":0},{"p":5,"r":10,"c":3,"z":0},{"p":5,"r":10,"c":2,"z":0},{"p":5,"r":10,"c":1,"z":0},{"p":5,"r":10,"c":0,"z":0},
{"p":5,"r":11,"c":15,"z":0},{"p":5,"r":11,"c":14,"z":0},{"p":5,"r":11,"c":13,"z":0},{"p":5,"r":11,"c":12,"z":0},{"p":5,"r":11,"c":11,"z":0},{"p":5,"r":11,"c":10,"z":0},{"p":5,"r":11,"c":9,"z":0},{"p":5,"r":11,"c":8,"z":0},{"p":5,"r":11,"c":7,"z":0},{"p":5,"r":11,"c":6,"z":0},{"p":5,"r":11,"c":5,"z":0},{"p":5,"r":11,"c":4,"z":0},{"p":5,"r":11,"c":3,"z":0},{"p":5,"r":11,"c":2,"z":0},{"p":5,"r":11,"c":1,"z":0},{"p":5,"r":11,"c":0,"z":0},
{"p":5,"r":12,"c":15,"z":0},{"p":5,"r":12,"c":14,"z":0},{"p":5,"r":12,"c":13,"z":0},{"p":5,"r":12,"c":12,"z":0},{"p":5,"r":12,"c":11,"z":0},{"p":5,"r":12,"c":10,"z":0},{"p":5,"r":12,"c":9,"z":0},{"p":5,"r":12,"c":8,"z":0},{"p":5,"r":12,"c":7,"z":0},{"p":5,"r":12,"c":6,"z":0},{"p":5,"r":12,"c":5,"z":0},{"p":5,"r":12,"c":4,"z":0},{"p":5,"r":12,"c":3,"z":0},{"p":5,"r":12,"c":2,"z":0},{"p":5,"r":12,"c":1,"z":0},{"p":5,"r":12,"c":0,"z":0},
{"p":5,"r":13,"c":15,"z":0},{"p":5,"r":13,"c":14,"z":0},{"p":5,"r":13,"c":13,"z":0},{"p":5,"r":13,"c":12,"z":0},{"p":5,"r":13,"c":11,"z":0},{"p":5,"r":13,"c":10,"z":0},{"p":5,"r":13,"c":9,"z":0},{"p":5,"r":13,"c":8,"z":0},{"p":5,"r":13,"c":7,"z":0},{"p":5,"r":13,"c":6,"z":0},{"p":5,"r":13,"c":5,"z":0},{"p":5,"r":13,"c":4,"z":0},{"p":5,"r":13,"c":3,"z":0},{"p":5,"r":13,"c":2,"z":0},{"p":5,"r":13,"c":1,"z":0},{"p":5,"r":13,"c":0,"z":0},
{"p":5,"r":14,"c":15,"z":0},{"p":5,"r":14,"c":14,"z":0},{"p":5,"r":14,"c":13,"z":0},{"p":5,"r":14,"c":12,"z":0},{"p":5,"r":14,"c":11,"z":0},{"p":5,"r":14,"c":10,"z":0},{"p":5,"r":14,"c":9,"z":0},{"p":5,"r":14,"c":8,"z":0},{"p":5,"r":14,"c":7,"z":0},{"p":5,"r":14,"c":6,"z":0},{"p":5,"r":14,"c":5,"z":0},{"p":5,"r":14,"c":4,"z":0},{"p":5,"r":14,"c":3,"z":0},{"p":5,"r":14,"c":2,"z":0},{"p":5,"r":14,"c":1,"z":0},{"p":5,"r":14,"c":0,"z":0},
{"p":5,"r":15,"c":15,"z":0},{"p":5,"r":15,"c":14,"z":0},{"p":5,"r":15,"c":13,"z":0},{"p":5,"r":15,"c":12,"z":0},{"p":5,"r":15,"c":11,"z":0},{"p":5,"r":15,"c":10,"z":0},{"p":5,"r":15,"c":9,"z":0},{"p":5,"r":15,"c":8,"z":0},{"p":5,"r":15,"c":7,"z":0},{"p":5,"r":15,"c":6,"z":0},{"p":5,"r":15,"c":5,"z":0},{"p":5,"r":15,"c":4,"z":0},{"p":5,"r":15,"c":3,"z":0},{"p":5,"r":15,"c":2,"z":0},{"p":5,"r":15,"c":1,"z":0},{"p":5,"r":15,"c":0,"z":0}
]},
"transform":[
{"calculate":"NN[datum.p]","as":"n"},{"calculate":"ZL[datum.p]","as":"lo0"},
{"calculate":"(datum.r+0.1)/datum.n","as":"a"},{"calculate":"(datum.r+0.9)/datum.n","as":"b"},{"calculate":"(datum.c+0.1)/datum.n","as":"e"},{"calculate":"(datum.c+0.9)/datum.n","as":"f"},{"calculate":"max(datum.z,0)","as":"h"},{"calculate":"min(datum.z,0)","as":"g"},{"calculate":"(datum.t+0.5)/datum.n","as":"q"},
{"calculate":"datum.l=='z'?[[0,0,datum.t,0,0],[0,1,datum.t,0,1],[1,1,datum.t,0,2]]:datum.l=='c'?[[1,datum.q,datum.lo0,0,0],[0,datum.q,datum.lo0,0,1],[0,datum.q,1,0,2]]:datum.l=='r'?[[datum.q,0,datum.lo0,0,0],[datum.q,1,datum.lo0,0,1],[datum.q,1,1,0,2]]:datum.l=='k'?[[0,1,datum.lo0,0,0],[0,1,1,0,1]]:datum.l=='a'?[[0,0,1,0,0],[0,0,datum.lo0,0,1],[1,0,datum.lo0,0,2],[1,1,datum.lo0,0,3]]:datum.l=='tz'?[[0,0,datum.t,0,0]]:datum.l=='tr'?[[datum.q,0,datum.lo0,0,0]]:datum.l=='tc'?[[1,datum.q,datum.lo0,0,0]]:[[datum.a,datum.e,datum.h,0,0],[datum.b,datum.e,datum.h,0,1],[datum.b,datum.f,datum.h,0,2],[datum.a,datum.f,datum.h,0,3],[datum.a,datum.e,datum.h,0,4],[datum.b,datum.e,datum.h,1,0],[datum.b,datum.f,datum.h,1,1],[datum.b,datum.f,datum.g,1,2],[datum.b,datum.e,datum.g,1,3],[datum.b,datum.e,datum.h,1,4],[datum.a,datum.e,datum.h,2,0],[datum.b,datum.e,datum.h,2,1],[datum.b,datum.e,datum.g,2,2],[datum.a,datum.e,datum.g,2,3],[datum.a,datum.e,datum.h,2,4]]","as":"pts"},
{"flatten":["pts"],"as":["pt"]},
{"calculate":"datum.pt[4]","as":"i"},
{"calculate":"datum.p+'_'+datum.l+'_'+datum.t+'_'+datum.r+'_'+datum.c+'_'+datum.pt[3]","as":"id"},
{"calculate":"datum.c/(datum.n-1)","as":"col"},
{"calculate":"OX[datum.p]+RX[datum.p]*datum.pt[0]+CX[datum.p]*datum.pt[1]+(datum.l=='tz'?-3:datum.l=='tr'?DRX[datum.p]:datum.l=='tc'?DCX[datum.p]:0)","as":"px"},
{"calculate":"OY[datum.p]+RY[datum.p]*datum.pt[0]+CY[datum.p]*datum.pt[1]-ZU[datum.p]*(datum.pt[2]-datum.lo0)+(datum.l=='tz'?-7:datum.l=='tr'?DRY[datum.p]:datum.l=='tc'?DCY[datum.p]:0)","as":"py"}
],
"vconcat":[
{"width":684,"height":195,"title":{"text":"(a) reconstruction by means of QST with sampling rate ηₘ = 1","orient":"bottom","font":"Liberation Serif","fontSize":25.5,"fontWeight":"normal","anchor":"middle","offset":0,"color":"#111"},
"encoding":{"x":{"field":"px","type":"quantitative","axis":null,"scale":{"domain":[0,684],"nice":false,"zero":false}},"y":{"field":"py","type":"quantitative","axis":null,"scale":{"domain":[195,0],"nice":false,"zero":false}}},
"layer":[
{"transform":[{"filter":"datum.p<3&&(datum.l=='z'||datum.l=='c'||datum.l=='r'||datum.l=='k')"}],"mark":{"type":"line","color":"#b0b0b0","strokeWidth":0.8,"strokeDash":[4,3]},"encoding":{"detail":{"field":"id"},"order":{"field":"i"}}},
{"transform":[{"filter":"datum.p<3&&datum.l=='a'"}],"mark":{"type":"line","color":"#222","strokeWidth":1.1},"encoding":{"detail":{"field":"id"},"order":{"field":"i"}}},
{"transform":[{"filter":"datum.p<3&&!isValid(datum.l)"}],"mark":{"type":"line","filled":true,"stroke":"#1a1a1a","strokeWidth":0.5},"encoding":{"detail":{"field":"id"},"order":{"field":"i"},"color":{"field":"col","type":"quantitative","legend":null,"scale":{"domain":[0,0.1429,0.2857,0.3333,0.4286,0.5714,0.6667,0.7143,0.8571,1],"range":["#1a2d6b","#1b4fa8","#2aa6e0","#4fc0e0","#72c8a6","#c4d83e","#f4c61c","#f59b1c","#e8291f","#741a1e"]}}}},
{"transform":[{"filter":"datum.p<3&&datum.l=='tz'"}],"mark":{"type":"text","align":"right","baseline":"middle","font":"Liberation Serif","fontSize":12,"color":"#111"},"encoding":{"text":{"field":"s"}}},
{"transform":[{"filter":"datum.p<3&&(datum.l=='tr'||datum.l=='tc')"}],"mark":{"type":"text","align":"center","baseline":"middle","font":"Liberation Serif","fontSize":12,"color":"#111"},"encoding":{"text":{"field":"s"}}}
]},
{"width":684,"height":197,"title":{"text":["(b) reconstruction by the proposed method with the sampling","rates ηg₂ = 1.0, ηg₃ = 0.75 and ηg₄ = 0.50"],"orient":"bottom","font":"Liberation Serif","fontSize":25.5,"lineHeight":28,"fontWeight":"normal","anchor":"middle","offset":0,"color":"#111"},
"encoding":{"x":{"field":"px","type":"quantitative","axis":null,"scale":{"domain":[0,684],"nice":false,"zero":false}},"y":{"field":"py","type":"quantitative","axis":null,"scale":{"domain":[418,221],"nice":false,"zero":false}}},
"layer":[
{"transform":[{"filter":"datum.p>=3&&(datum.l=='z'||datum.l=='c'||datum.l=='r'||datum.l=='k')"}],"mark":{"type":"line","color":"#b0b0b0","strokeWidth":0.8,"strokeDash":[4,3]},"encoding":{"detail":{"field":"id"},"order":{"field":"i"}}},
{"transform":[{"filter":"datum.p>=3&&datum.l=='a'"}],"mark":{"type":"line","color":"#222","strokeWidth":1.1},"encoding":{"detail":{"field":"id"},"order":{"field":"i"}}},
{"transform":[{"filter":"datum.p>=3&&!isValid(datum.l)"}],"mark":{"type":"line","filled":true,"stroke":"#1a1a1a","strokeWidth":0.5},"encoding":{"detail":{"field":"id"},"order":{"field":"i"},"color":{"field":"col","type":"quantitative","legend":null,"scale":{"domain":[0,0.1429,0.2857,0.3333,0.4286,0.5714,0.6667,0.7143,0.8571,1],"range":["#1a2d6b","#1b4fa8","#2aa6e0","#4fc0e0","#72c8a6","#c4d83e","#f4c61c","#f59b1c","#e8291f","#741a1e"]}}}},
{"transform":[{"filter":"datum.p>=3&&datum.l=='tz'"}],"mark":{"type":"text","align":"right","baseline":"middle","font":"Liberation Serif","fontSize":12,"color":"#111"},"encoding":{"text":{"field":"s"}}},
{"transform":[{"filter":"datum.p>=3&&(datum.l=='tr'||datum.l=='tc')"}],"mark":{"type":"text","align":"center","baseline":"middle","font":"Liberation Serif","fontSize":12,"color":"#111"},"encoding":{"text":{"field":"s"}}}
]}
]}
